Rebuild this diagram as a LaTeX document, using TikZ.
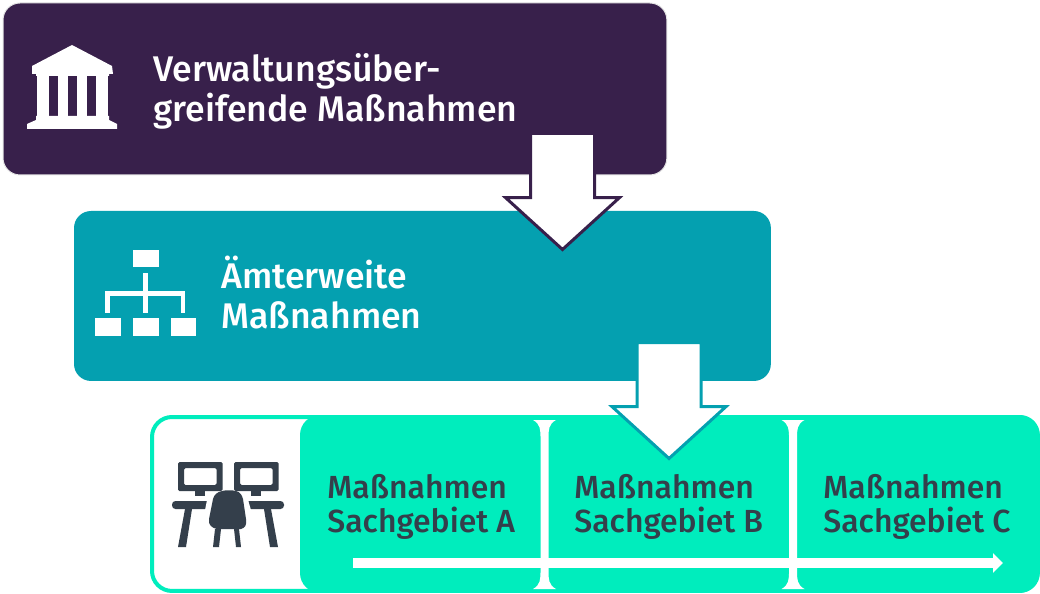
\documentclass[tikz,border=0pt]{standalone}
\usepackage{fontspec}
\setmainfont{Fira Sans}[UprightFont=* Medium]
\usetikzlibrary{arrows.meta,shapes.arrows}

\definecolor{verwaltungcolor}{HTML}{38204B}
\definecolor{amtcolor}{HTML}{04A0B0}
\definecolor{sachcolor}{HTML}{00EDBD}
\definecolor{iconcolor}{HTML}{343F4B}

\tikzset{
    ebene/.style={anchor=north west,inner sep=0,outer sep=0,rounded corners=5mm},
    titel/.style={anchor=west,align=left,inner sep=0,text=white,font=\fontsize{20.3pt}{22.7pt}\selectfont},
    sachtext/.style={anchor=west,align=left,inner sep=0,text=iconcolor,font=\fontsize{18.2pt}{19.3pt}\selectfont},
    blockpfeil/.style={single arrow,shape border rotate=270,anchor=tail,fill=white,
        line width=0.06cm,inner ysep=0,inner xsep=0.61cm,outer sep=0,miter limit=10,
        minimum height=2.32cm,
        single arrow head extend=0.5cm,single arrow tip angle=95.4},
}

\begin{document}
\begin{tikzpicture}[x=0.02cm,y=-0.02cm]
    \pgfmathsetmacro{\boxradius}{0.34}
    \useasboundingbox (0,0) rectangle (1040,594);
    % die drei Ebenen
    \node[ebene,fill=verwaltungcolor,draw=black!10,line width=0.02cm,rounded corners=\boxradius cm,minimum width=13.28cm,minimum height=3.44cm] (verwaltung) at (3,3) {};
    \node[ebene,fill=amtcolor,rounded corners=\boxradius cm,minimum width=13.94cm,minimum height=3.4cm] (amt) at (74,211) {};
    \node[ebene,fill=white,draw=sachcolor,line width=0.08cm,rounded corners=0.4cm,minimum width=17.72cm,minimum height=3.48cm] (sachrahmen) at (152,417) {};
    \node[ebene,fill=sachcolor,rounded corners=0.4cm,minimum width=14.8cm,minimum height=3.56cm] (sachfeld) at (300,415) {};
    % Trenner
    \foreach \trennerx in {544.5,793} {
        \fill[white] (\trennerx-11.5,420) .. controls (\trennerx-4,424) and (\trennerx-4,430) .. (\trennerx-4,438)
            -- (\trennerx-4,571) .. controls (\trennerx-4,579) and (\trennerx-4,585) .. (\trennerx-11.5,589)
            -- (\trennerx+11.5,589) .. controls (\trennerx+4,585) and (\trennerx+4,579) .. (\trennerx+4,571)
            -- (\trennerx+4,438) .. controls (\trennerx+4,430) and (\trennerx+4,424) .. (\trennerx+11.5,420) -- cycle;
    }
    % Texte
    \node[titel] (verwaltungtext) at (153,91) {Verwaltungsüber-\\greifende Maßnahmen};
    \node[titel] (amttext) at (221,292.5) {Ämterweite\\Maßnahmen};
    \node[sachtext] (sachtexta) at (327,507) {Maßnahmen\\Sachgebiet A};
    \node[sachtext] (sachtextb) at (574,507) {Maßnahmen\\Sachgebiet B};
    \node[sachtext] (sachtextc) at (823,507) {Maßnahmen\\Sachgebiet C};
    % Zeitpfeil
    \coordinate (zeitstart) at (353,563);
    \coordinate (zeitende) at (1003,563);
    \draw[white,line width=0.2cm,-{Triangle[length=0.2cm,width=0.38cm]}] (zeitstart) -- (zeitende);
    % Blockpfeile
    \node[blockpfeil,draw=verwaltungcolor] (pfeilverwaltung) at (562.5,133.5) {};
    \node[blockpfeil,draw=amtcolor] (pfeilamt) at (669,342.5) {};
    % Gebaeude
    \fill[white] (72,45) -- (112,66) -- (113,74) -- (109,74) -- (109,76) -- (36,76) -- (36,74) -- (32,74) -- (32,66) -- cycle;
    \foreach \saeulex/\saeulew in {37/12,58/10,77/10,96/12} {
        \fill[white] (\saeulex,76) rectangle (\saeulex+\saeulew,117);
    }
    \fill[white] (36,116) -- (109,116) -- (109,120) -- (117,124) -- (117,129) -- (27,129) -- (27,124) -- (36,120) -- cycle;
    % Organigramm
    \foreach \orgx/\orgy in {133/250,95/318,133/318,170.5/318} {
        \fill[white] (\orgx,\orgy) rectangle (\orgx+25.5,\orgy+17.5);
    }
    \fill[white] (143,273) rectangle (148,313);
    \fill[white] (105,291) rectangle (185,295.5);
    \fill[white] (105,291) rectangle (110,313);
    \fill[white] (181,291) rectangle (185,313);
    % Arbeitsplatz
    \foreach \bildx in {178,234} {
        \fill[iconcolor,rounded corners=0.03cm,even odd rule] (\bildx,462) rectangle (\bildx+44.5,491) (\bildx+6,468) rectangle (\bildx+38.5,485);
        \fill[iconcolor] (\bildx+17,491) rectangle (\bildx+27,496);
    }
    \fill[iconcolor,rounded corners=0.07cm] (172,501) rectangle (210,509);
    \fill[white] (207,500) -- (211,500) -- (211,510) -- (205,510) -- cycle;
    \fill[iconcolor,rounded corners=0.07cm] (246,501) rectangle (284,509);
    \fill[white] (246,500) -- (248,500) -- (251,510) -- (246,510) -- cycle;
    \fill[iconcolor] (185,509) -- (192,509) -- (186,547) -- (178,547) -- cycle;
    \fill[iconcolor] (264,509) -- (271,509) -- (278,547) -- (270,547) -- cycle;
    \fill[iconcolor] (222,491) .. controls (226,490) and (232,490) .. (236,491)
        .. controls (240,492) and (242,495) .. (243,499)
        -- (246,519) .. controls (247,525) and (245,528) .. (241,529)
        -- (217,529) .. controls (212,528) and (208,525) .. (209,519)
        -- (213,499) .. controls (214,495) and (217,492) .. (222,491) -- cycle;
    \fill[iconcolor] (215,529) -- (221,529) -- (219,547) -- (213,547) -- cycle;
    \fill[iconcolor] (234,529) -- (239,529) -- (241,547) -- (236,547) -- cycle;
\end{tikzpicture}
\end{document}
